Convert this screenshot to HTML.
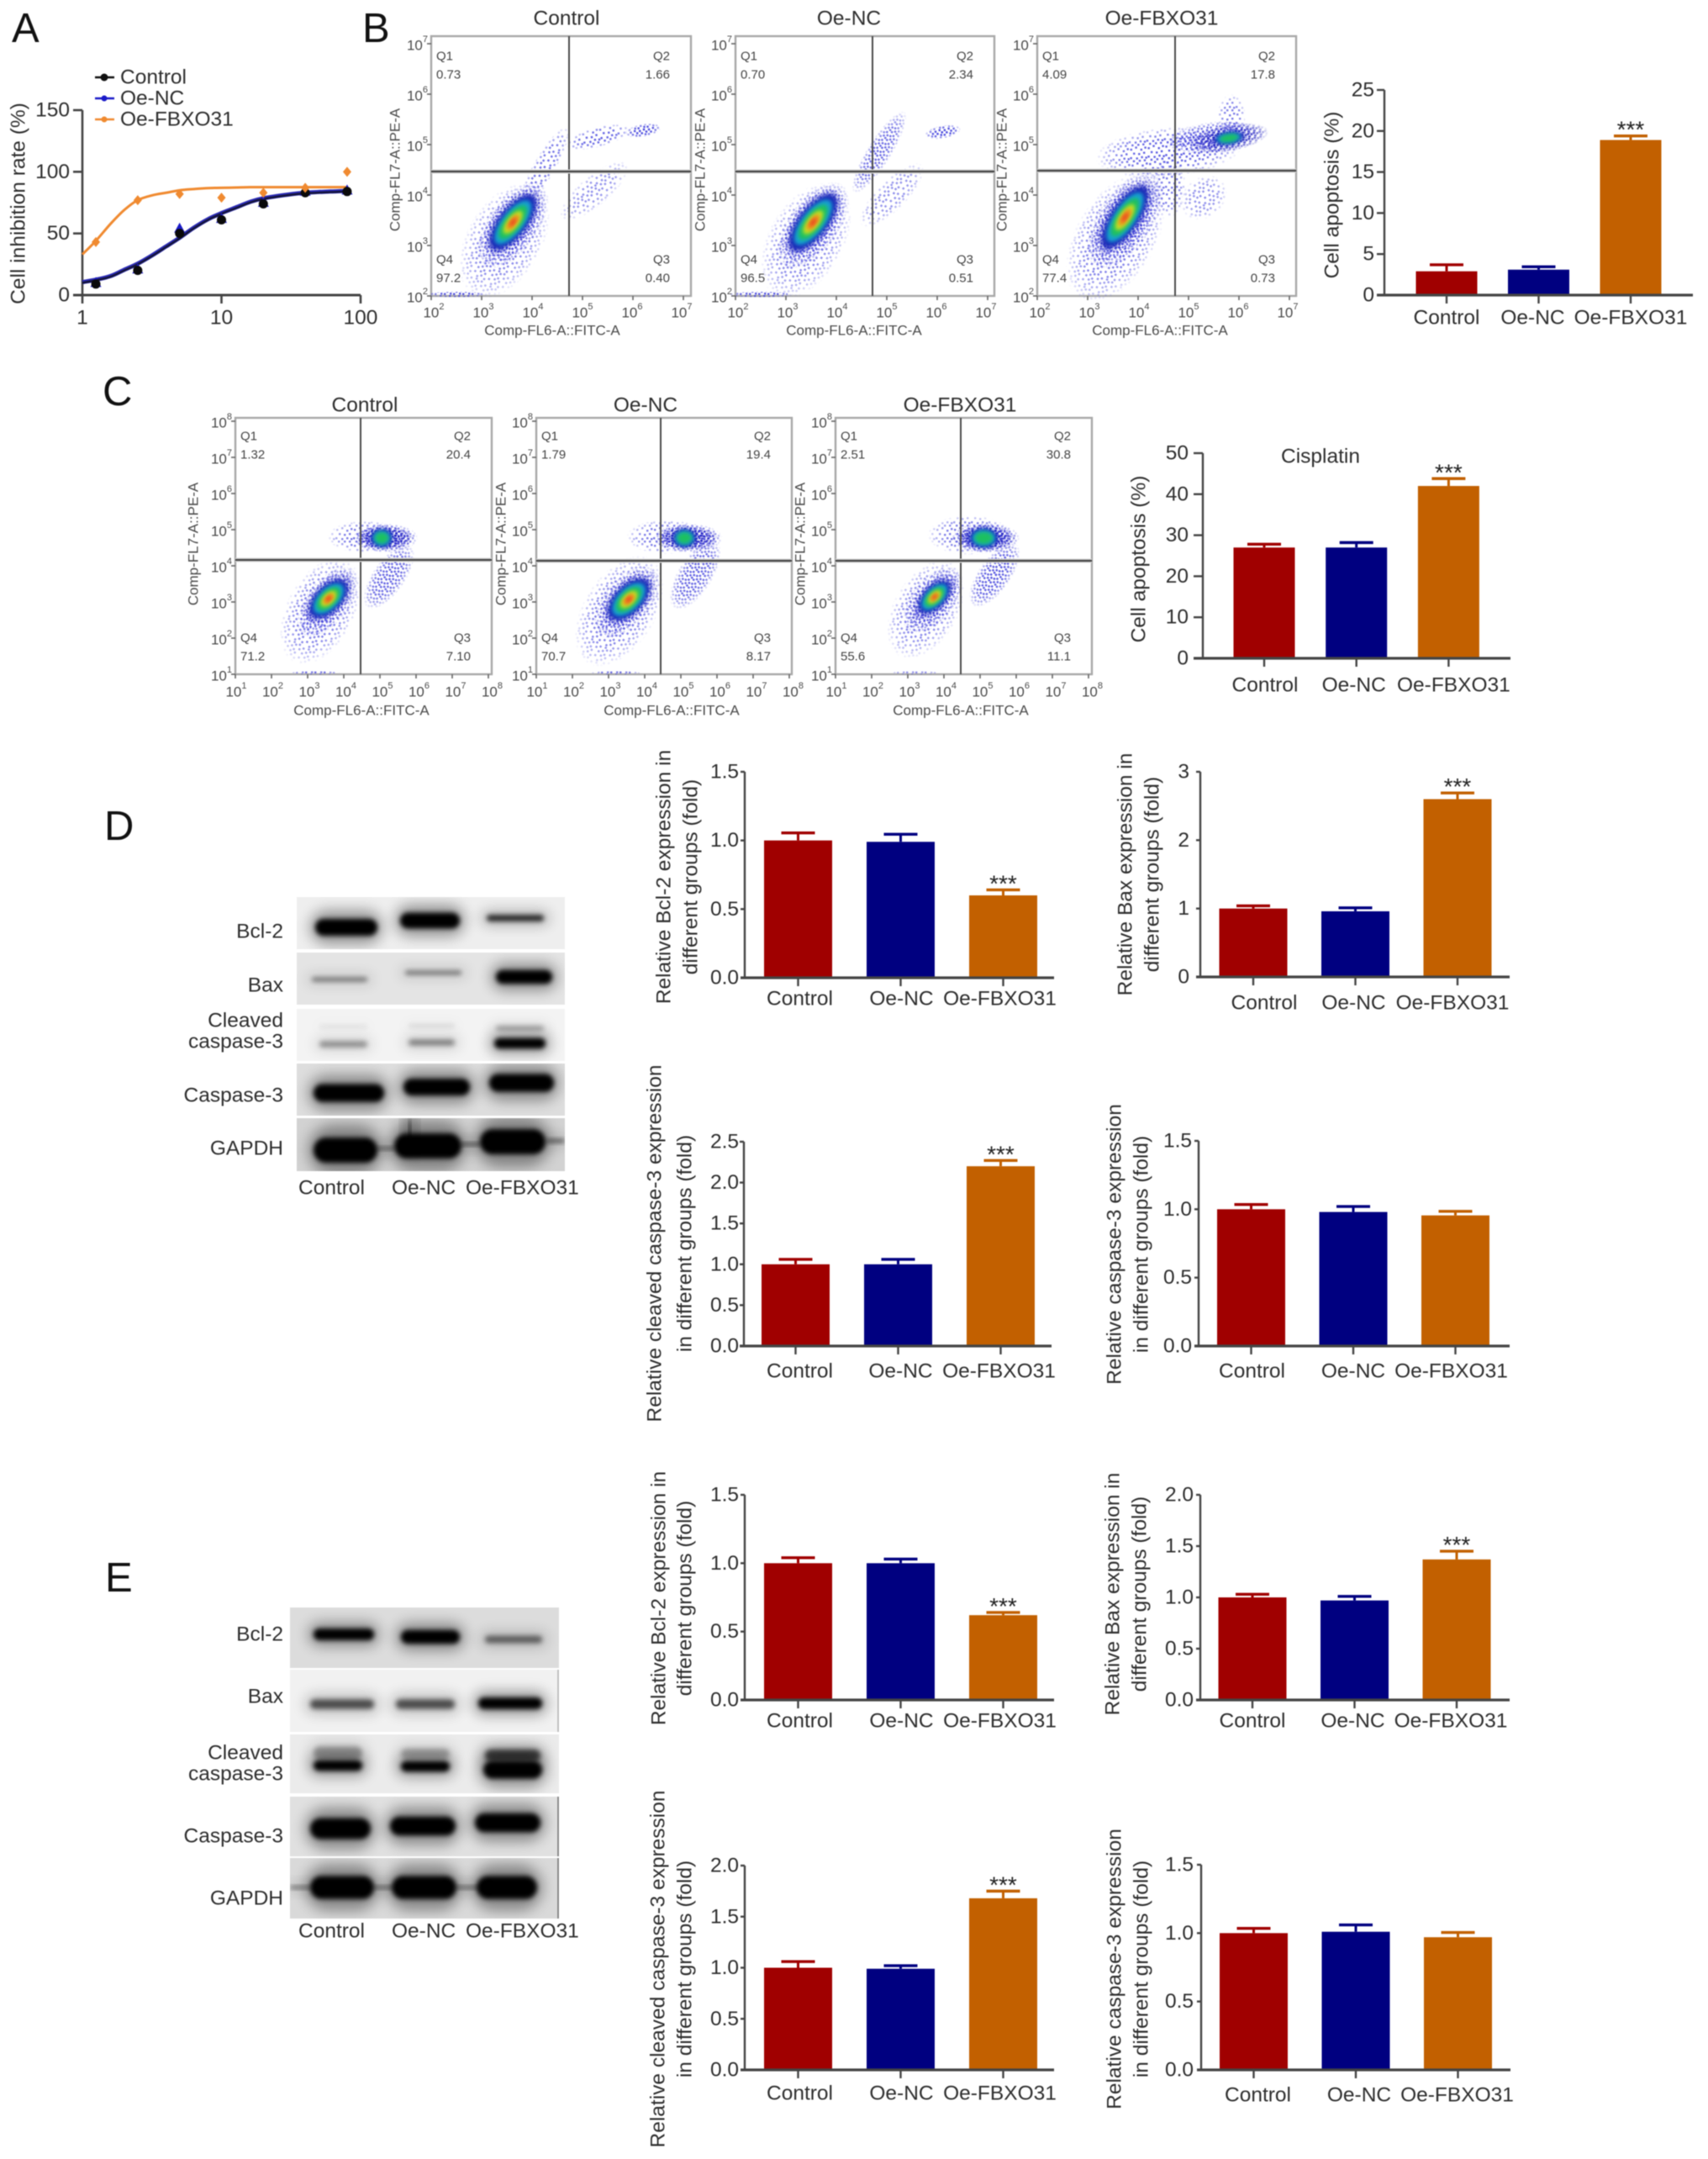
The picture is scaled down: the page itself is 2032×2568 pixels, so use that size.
<!DOCTYPE html>
<html lang="en">
<head>
<meta charset="utf-8">
<title>FBXO31 cell inhibition, apoptosis and protein expression figure</title>
<style>
html,body{margin:0;padding:0;background:#fff;}
#figure{display:block;width:2032px;height:2568px;filter:blur(0.6px);font-family:"Liberation Sans",Arial,sans-serif;}
text{dominant-baseline:central;}
text.base{dominant-baseline:auto;}
</style>
</head>
<body>
<svg id="figure" xmlns="http://www.w3.org/2000/svg" width="2032" height="2568" viewBox="0 0 2032 2568">
<defs>
<filter id="blurCore" x="-40%" y="-40%" width="180%" height="180%"><feGaussianBlur stdDeviation="2.5"/></filter>
<filter id="blurBand" x="-20%" y="-100%" width="140%" height="300%"><feGaussianBlur stdDeviation="2.8"/></filter>
<filter id="blurHalo" x="-40%" y="-200%" width="180%" height="500%"><feGaussianBlur stdDeviation="8"/></filter>
<radialGradient id="featherGrad" cx="0.5" cy="0.5" r="0.5">
<stop offset="0" stop-color="#fff"/><stop offset="0.6" stop-color="#ddd"/><stop offset="0.85" stop-color="#777"/><stop offset="1" stop-color="#000"/>
</radialGradient>
<mask id="feather" maskUnits="objectBoundingBox" maskContentUnits="objectBoundingBox" x="0" y="0" width="1" height="1">
<rect x="0" y="0" width="1" height="1" fill="url(#featherGrad)"/>
</mask>
<pattern id="speckle" patternUnits="userSpaceOnUse" width="21" height="19">
<g fill="#5656e2">
<rect x="1" y="2" width="2.4" height="2.4"/><rect x="7" y="0" width="2.4" height="2.4"/><rect x="13" y="3" width="2.4" height="2.4"/>
<rect x="18" y="1" width="2.4" height="2.4"/><rect x="4" y="7" width="2.4" height="2.4"/><rect x="10" y="8" width="2.4" height="2.4"/>
<rect x="16" y="7" width="2.4" height="2.4"/><rect x="0" y="12" width="2.4" height="2.4"/><rect x="7" y="13" width="2.4" height="2.4"/>
<rect x="13" y="12" width="2.4" height="2.4"/><rect x="18" y="13" width="2.4" height="2.4"/><rect x="3" y="16" width="2.4" height="2.4"/>
<rect x="10" y="16" width="2.4" height="2.4"/><rect x="16" y="16" width="2.4" height="2.4"/>
</g>
</pattern>
<pattern id="speckleDense" patternUnits="userSpaceOnUse" width="11" height="9">
<g fill="#3c3cdc">
<rect x="1" y="1" width="2.4" height="2.4"/><rect x="6" y="0" width="2.4" height="2.4"/><rect x="8.5" y="3" width="2.4" height="2.4"/>
<rect x="3" y="4" width="2.4" height="2.4"/><rect x="7" y="6" width="2.4" height="2.4"/><rect x="0" y="6.5" width="2.4" height="2.4"/>
</g>
</pattern>
<pattern id="speckleDeep" patternUnits="userSpaceOnUse" width="7" height="6">
<g fill="#2020c0">
<rect x="0" y="0" width="3" height="2.6"/><rect x="4" y="1" width="2.6" height="2.6"/><rect x="1" y="3.4" width="3" height="2.4"/>
</g>
</pattern>
</defs>
</svg>
<script>
/* ---------- Panel A: dose-response data ---------- */
const seriesNames = ['Control', 'Oe-NC', 'Oe-FBXO31'];
const doses = [1.25, 2.5, 5, 10, 20, 40, 80];
const controlPoints = [9, 20, 50, 61, 74, 83, 84];
const oeNcPoints = [10, 21, 54, 62, 75, 84, 85];
const oeFbxo31Points = [43, 77, 82, 79, 83, 87, 100];
const curveDoses = [1, 1.25, 1.6, 2, 2.5, 3.2, 4, 5, 6.3, 8, 10, 13, 16, 20, 30, 40, 60, 80];
const controlCurve = [10, 12, 15, 20, 25, 32, 39, 46, 54, 61, 66, 71, 75, 78, 81, 82.5, 83.5, 84];
const oeNcCurve = [10.5, 12.5, 15.5, 20.5, 25.5, 32.5, 39.5, 46.5, 54.5, 61.5, 66.5, 71.5, 75.5, 78.5, 81.5, 83, 84, 84.5];
const oeFbxo31Curve = [33, 44, 58, 69, 77, 81, 83, 85, 86, 86.8, 87, 87.3, 87.5, 87.5, 87.5, 87.5, 87.5, 87.5];
const inhibitionTicks = [0, 50, 100, 150];
const doseTicks = [1, 10, 100];

/* ---------- Bar charts: values, errors, tick labels ---------- */
const categories = ['Control', 'Oe-NC', 'Oe-FBXO31'];
const significance = ['', '', '***'];
const noSignificance = ['', '', ''];

const apoptosisBValues = [2.9, 3.1, 18.9];
const apoptosisBErrors = [0.8, 0.35, 0.5];
const apoptosisBTicks = ['0', '5', '10', '15', '20', '25'];

const apoptosisCValues = [27, 27, 42];
const apoptosisCErrors = [0.8, 1.2, 1.8];
const apoptosisCTicks = ['0', '10', '20', '30', '40', '50'];

const bcl2DValues = [1.0, 0.99, 0.6];
const bcl2DErrors = [0.055, 0.055, 0.04];
const bcl2DTicks = ['0.0', '0.5', '1.0', '1.5'];

const baxDValues = [1.0, 0.96, 2.6];
const baxDErrors = [0.04, 0.05, 0.09];
const baxDTicks = ['0', '1', '2', '3'];

const cleavedDValues = [1.0, 1.0, 2.2];
const cleavedDErrors = [0.06, 0.06, 0.07];
const cleavedDTicks = ['0.0', '0.5', '1.0', '1.5', '2.0', '2.5'];

const caspaseDValues = [1.0, 0.98, 0.955];
const caspaseDErrors = [0.035, 0.04, 0.03];
const caspaseDTicks = ['0.0', '0.5', '1.0', '1.5'];

const bcl2EValues = [1.0, 1.0, 0.62];
const bcl2EErrors = [0.04, 0.03, 0.02];
const bcl2ETicks = ['0.0', '0.5', '1.0', '1.5'];

const baxEValues = [1.0, 0.97, 1.37];
const baxEErrors = [0.03, 0.04, 0.08];
const baxETicks = ['0.0', '0.5', '1.0', '1.5', '2.0'];

const cleavedEValues = [1.0, 0.99, 1.68];
const cleavedEErrors = [0.06, 0.03, 0.07];
const cleavedETicks = ['0.0', '0.5', '1.0', '1.5', '2.0'];

const caspaseEValues = [1.0, 1.01, 0.97];
const caspaseEErrors = [0.035, 0.05, 0.035];
const caspaseETicks = ['0.0', '0.5', '1.0', '1.5'];

/* ---------- Flow cytometry: quadrant percentages, axis exponents, density clusters ---------- */
const quadrantNames = ['Q1', 'Q2', 'Q3', 'Q4'];
const flowBExponents = [2, 3, 4, 5, 6, 7];
const flowCExponents = [1, 2, 3, 4, 5, 6, 7, 8];
const flowB1Quadrants = ['0.73', '1.66', '0.40', '97.2'];
const flowB2Quadrants = ['0.70', '2.34', '0.51', '96.5'];
const flowB3Quadrants = ['4.09', '17.8', '0.73', '77.4'];
const flowC1Quadrants = ['1.32', '20.4', '7.10', '71.2'];
const flowC2Quadrants = ['1.79', '19.4', '8.17', '70.7'];
const flowC3Quadrants = ['2.51', '30.8', '11.1', '55.6'];

const flowB1Clusters = [
  [3.45, 3.1, 1.25, 0.75, -60, 'speckle', 0.8],
  [3.62, 3.4, 1.0, 0.5, -54, 'dense', 0.95],
  [3.62, 3.46, 0.82, 0.38, -52, 'deep', 0.8],
  [4.25, 4.57, 0.9, 0.22, -60, 'speckle', 0.9],
  [5.31, 5.15, 0.65, 0.2, -15, 'speckle', 1],
  [6.2, 5.28, 0.36, 0.13, -10, 'dense', 1],
  [5.23, 4.08, 0.85, 0.3, -40, 'speckle', 0.7],
  [2.5, 2.03, 0.6, 0.06, 0, 'dense', 0.9],
  [3.62, 3.46, 0.66, 0.27, -52, 'core', 6]
];
const flowB2Clusters = [
  [3.4, 3.1, 1.25, 0.75, -60, 'speckle', 0.8],
  [3.54, 3.4, 1.0, 0.5, -54, 'dense', 0.95],
  [3.54, 3.46, 0.82, 0.38, -52, 'deep', 0.8],
  [4.85, 4.85, 0.95, 0.24, -58, 'dense', 0.8],
  [6.11, 5.25, 0.36, 0.13, -10, 'dense', 1],
  [5.1, 4.0, 0.85, 0.3, -45, 'speckle', 0.7],
  [2.5, 2.03, 0.65, 0.06, 0, 'dense', 0.9],
  [3.54, 3.46, 0.68, 0.28, -52, 'core', 6]
];
const flowB3Clusters = [
  [3.55, 3.15, 1.4, 0.8, -60, 'speckle', 0.85],
  [3.74, 3.5, 1.1, 0.55, -56, 'dense', 0.95],
  [3.74, 3.56, 0.9, 0.4, -55, 'deep', 0.8],
  [4.6, 4.85, 1.45, 0.5, -5, 'speckle', 1],
  [5.45, 5.15, 0.9, 0.3, -8, 'dense', 0.85],
  [5.8, 5.13, 0.8, 0.27, -10, 'deep', 0.85],
  [5.85, 5.55, 0.28, 0.45, 0, 'speckle', 0.8],
  [4.6, 4.15, 0.35, 0.6, 0, 'speckle', 0.8],
  [5.3, 3.95, 0.5, 0.4, -40, 'speckle', 0.7],
  [3.74, 3.56, 0.72, 0.27, -56, 'core', 6],
  [5.8, 5.13, 0.3, 0.12, -8, 'core', 3]
];
const flowC1Clusters = [
  [3.35, 2.75, 1.6, 0.95, -62, 'speckle', 0.85],
  [3.55, 3.0, 1.15, 0.6, -52, 'dense', 0.9],
  [3.58, 3.09, 0.9, 0.48, -46, 'deep', 0.75],
  [4.6, 4.8, 1.05, 0.45, 0, 'speckle', 0.85],
  [5.15, 4.77, 0.9, 0.4, 0, 'dense', 1],
  [5.15, 4.77, 0.78, 0.33, 0, 'deep', 0.9],
  [5.25, 3.7, 1.05, 0.45, -55, 'dense', 0.85],
  [3.2, 1.04, 0.7, 0.05, 0, 'dense', 0.8],
  [3.58, 3.09, 0.66, 0.35, -45, 'core', 6],
  [5.05, 4.77, 0.3, 0.25, 0, 'core', 3]
];
const flowC2Clusters = [
  [3.3, 2.75, 1.7, 1.0, -58, 'speckle', 0.85],
  [3.5, 3.0, 1.2, 0.65, -50, 'dense', 0.9],
  [3.56, 3.07, 0.95, 0.52, -46, 'deep', 0.75],
  [4.6, 4.8, 1.1, 0.48, 0, 'speckle', 0.85],
  [5.2, 4.77, 0.95, 0.4, 0, 'dense', 1],
  [5.2, 4.77, 0.82, 0.33, 0, 'deep', 0.9],
  [5.4, 3.75, 1.1, 0.48, -58, 'dense', 0.85],
  [3.2, 1.04, 0.7, 0.05, 0, 'dense', 0.8],
  [3.56, 3.07, 0.72, 0.38, -45, 'core', 6],
  [5.1, 4.77, 0.32, 0.25, 0, 'core', 3]
];
const flowC3Clusters = [
  [3.5, 2.8, 1.5, 0.9, -60, 'speckle', 0.8],
  [3.7, 3.05, 1.1, 0.6, -50, 'dense', 0.9],
  [3.74, 3.14, 0.82, 0.42, -46, 'deep', 0.75],
  [4.7, 4.85, 1.15, 0.55, 0, 'speckle', 0.85],
  [5.15, 4.77, 0.95, 0.42, 0, 'dense', 1],
  [5.15, 4.77, 0.82, 0.36, 0, 'deep', 0.95],
  [5.4, 3.75, 1.05, 0.45, -55, 'dense', 0.9],
  [3.2, 1.04, 0.7, 0.05, 0, 'dense', 0.6],
  [3.74, 3.14, 0.56, 0.29, -45, 'core', 6],
  [5.1, 4.77, 0.4, 0.27, 0, 'core', 3]
];

/* ---------- Helpers ---------- */
const svg = document.getElementById('figure');
const NS = 'http://www.w3.org/2000/svg';
const AXIS = '#444';
const INK = '#2e2e2e';
const BAR_COLORS = ['#a00000', '#000080', '#c26000'];
const TEXT_SIZE = 24.5;

function make(tag, attrs, parent) {
  const e = document.createElementNS(NS, tag);
  for (const k in attrs) e.setAttribute(k, attrs[k]);
  (parent || svg).appendChild(e);
  return e;
}
function write(str, x, y, size, anchor, fill, parent, rotate) {
  const t = make('text', { x: x, y: y, 'font-size': size, 'text-anchor': anchor, fill: fill }, parent);
  if (rotate) t.setAttribute('transform', 'rotate(' + rotate + ' ' + x + ' ' + y + ')');
  t.textContent = str;
  return t;
}
function smoothPath(pts) {
  let d = 'M' + pts[0][0] + ' ' + pts[0][1];
  for (let i = 0; i < pts.length - 1; i++) {
    const p0 = pts[Math.max(i - 1, 0)], p1 = pts[i], p2 = pts[i + 1], p3 = pts[Math.min(i + 2, pts.length - 1)];
    d += ' C' + (p1[0] + (p2[0] - p0[0]) / 6) + ' ' + (p1[1] + (p2[1] - p0[1]) / 6) + ' ' +
      (p2[0] - (p3[0] - p1[0]) / 6) + ' ' + (p2[1] - (p3[1] - p1[1]) / 6) + ' ' + p2[0] + ' ' + p2[1];
  }
  return d;
}

/* ---------- Panel letters ---------- */
const panelLetters = [['A', 14, 50], ['B', 431, 50], ['C', 122, 482], ['D', 124, 999], ['E', 125, 1893]];
panelLetters.forEach(function (p) {
  const t = write(p[0], p[1], p[2], 49, 'start', '#111');
  t.setAttribute('class', 'base');
  
  
});

/* ---------- Panel A ---------- */
(function drawDoseResponse() {
  const g = make('g', {});
  
  
  const left = 98, bottom = 351, top = 131, decade = 165.5;
  const xScale = function (d) { return left + Math.log10(d) * decade; };
  const yScale = function (v) { return bottom - (v / 150) * (bottom - top); };

  const yAxis = make('line', { x1: left, x2: left, y1: yScale(150), y2: bottom, stroke: AXIS, 'stroke-width': 2.6 }, g);
  
  
  const xAxis = make('line', { x1: 87, x2: xScale(100), y1: bottom, y2: bottom, stroke: AXIS, 'stroke-width': 3 }, g);
  
  

  inhibitionTicks.forEach(function (v) {
    const tick = make('line', { x1: 87, x2: left, y1: yScale(v), y2: yScale(v), stroke: AXIS, 'stroke-width': 2.6 }, g);
    
    
    const lab = write(String(v), 83, yScale(v), TEXT_SIZE, 'end', INK, g);
    
    
  });
  doseTicks.forEach(function (d) {
    const tick = make('line', { x1: xScale(d), x2: xScale(d), y1: bottom, y2: bottom + 10, stroke: AXIS, 'stroke-width': 2.6 }, g);
    
    
    const lab = write(String(d), xScale(d), 378, TEXT_SIZE, 'middle', INK, g);
    
    
  });
  const yTitle = write('Cell inhibition rate (%)', 22, 242, TEXT_SIZE, 'middle', INK, g, -90);
  
  

  function curve(vals) {
    return smoothPath(curveDoses.map(function (d, i) { return [xScale(d), yScale(vals[i])]; }));
  }
  const ncLine = make('path', { d: curve(oeNcCurve), fill: 'none', stroke: '#2a2ab4', 'stroke-width': 5 }, g);
  
  
  const ctrlLine = make('path', { d: curve(controlCurve), fill: 'none', stroke: '#15153a', 'stroke-width': 2.4 }, g);
  
  
  const fbxLine = make('path', { d: curve(oeFbxo31Curve), fill: 'none', stroke: '#f08a30', 'stroke-width': 3 }, g);
  
  

  oeNcPoints.forEach(function (v, i) {
    const x = xScale(doses[i]), y = yScale(v);
    const m = make('path', { d: 'M' + x + ' ' + (y - 7) + 'L' + (x + 6.5) + ' ' + (y + 5) + 'L' + (x - 6.5) + ' ' + (y + 5) + 'Z', fill: '#1a1ac8' }, g);
    
    
  });
  controlPoints.forEach(function (v, i) {
    const m = make('circle', { cx: xScale(doses[i]), cy: yScale(v), r: 5.5, fill: '#0a0a0a' }, g);
    
    
  });
  oeFbxo31Points.forEach(function (v, i) {
    const x = xScale(doses[i]), y = yScale(v);
    const m = make('path', { d: 'M' + x + ' ' + (y - 6) + 'L' + (x + 5) + ' ' + y + 'L' + x + ' ' + (y + 6) + 'L' + (x - 5) + ' ' + y + 'Z', fill: '#f08a30' }, g);
    
    
  });

  const legendColors = ['#111', '#1a1ac8', '#f08a30'];
  seriesNames.forEach(function (name, i) {
    const y = 92 + i * 25;
    const line = make('line', { x1: 113, x2: 136, y1: y, y2: y, stroke: legendColors[i], 'stroke-width': 2.4 }, g);
    
    
    const dot = make('circle', { cx: 124, cy: y, r: i === 0 ? 4.5 : 3.5, fill: legendColors[i] }, g);
    
    
    const lab = write(name, 143, y, TEXT_SIZE, 'start', INK, g);
    
    
  });
})();

/* ---------- Flow plots ---------- */
const CORE_COLORS = ['#1c2cb8', '#14a0d0', '#1cc060', '#c4e024', '#f08a20', '#e8401c'];
const CORE_SCALES = [1, 0.8, 0.62, 0.42, 0.27, 0.14];
const CLOUD_FILLS = { speckle: 'speckle', dense: 'speckleDense', deep: 'speckleDeep' };

function drawFlowPlot(cfg) {
  const g = make('g', {});
  
  
  const minE = cfg.exponents[0];
  const xScale = function (e) { return cfg.left + (e - minE) * cfg.decade; };
  const yScale = function (e) { return cfg.bottom - (e - minE) * cfg.decade; };
  const xLabelScale = function (e) { return cfg.left + cfg.labelOffset + (e - minE) * cfg.labelDecade; };

  const frame = make('rect', { x: cfg.left, y: cfg.top, width: cfg.right - cfg.left, height: cfg.bottom - cfg.top, fill: '#fff', stroke: '#a8a8a8', 'stroke-width': 2.4 }, g);
  
  

  cfg.clusters.forEach(function (c) {
    const cx = xScale(c[0]), cy = yScale(c[1]), rx = c[2] * cfg.decade, ry = c[3] * cfg.decade;
    const rot = 'rotate(' + c[4] + ' ' + cx + ' ' + cy + ')';
    if (c[5] === 'core') {
      for (let i = 0; i < c[6]; i++) {
        const blob = make('ellipse', { cx: cx, cy: cy, rx: rx * CORE_SCALES[i], ry: ry * CORE_SCALES[i], transform: rot, fill: CORE_COLORS[i], filter: 'url(#blurCore)' }, g);
        
        
      }
    } else {
      const cloud = make('ellipse', { cx: cx, cy: cy, rx: rx, ry: ry, transform: rot, fill: 'url(#' + CLOUD_FILLS[c[5]] + ')', mask: 'url(#feather)', opacity: c[6] }, g);
      
      
    }
  });

  const vGate = make('line', { x1: cfg.gateX, x2: cfg.gateX, y1: cfg.top, y2: cfg.bottom, stroke: '#4a4a4a', 'stroke-width': 2 }, g);
  
  
  const hGlow = make('line', { x1: cfg.left, x2: cfg.right, y1: cfg.gateY, y2: cfg.gateY, stroke: '#d4d4d4', 'stroke-width': 5 }, g);
  
  
  const hGate = make('line', { x1: cfg.left, x2: cfg.right, y1: cfg.gateY, y2: cfg.gateY, stroke: '#444', 'stroke-width': 2.2 }, g);
  
  

  cfg.exponents.forEach(function (e) {
    const xt = make('line', { x1: xScale(e), x2: xScale(e), y1: cfg.bottom, y2: cfg.bottom + 5, stroke: '#666', 'stroke-width': 1.6 }, g);
    
    
    const yt = make('line', { x1: cfg.left - 5, x2: cfg.left, y1: yScale(e), y2: yScale(e), stroke: '#666', 'stroke-width': 1.6 }, g);
    
    

    const xl = write('10', xLabelScale(e), cfg.xTickY, 17, 'middle', '#4a4a4a', g);
    
    
    const xs = make('tspan', { dy: -7, 'font-size': 11 }, xl);
    xs.textContent = String(e);
    const yl = write('10', cfg.left - 4, yScale(e) + 2, 17, 'end', '#4a4a4a', g);
    
    
    const ys = make('tspan', { dy: -7, 'font-size': 11 }, yl);
    ys.textContent = String(e);
  });

  const title = write(cfg.title, cfg.titleX, cfg.titleY, TEXT_SIZE, 'middle', INK, g);
  
  
  const xTitle = write('Comp-FL6-A::FITC-A', cfg.xTitleX, cfg.xTitleY, 17, 'middle', '#4a4a4a', g);
  
  
  const yTitle = write('Comp-FL7-A::PE-A', cfg.yTitleX, cfg.yTitleY, 17, 'middle', '#4a4a4a', g, -90);
  
  

  const qLeft = cfg.left + 6, qRight = cfg.right - 25;
  const spots = [[qLeft, 'start', cfg.qTop], [qRight, 'end', cfg.qTop], [qRight, 'end', cfg.qBottom], [qLeft, 'start', cfg.qBottom]];
  quadrantNames.forEach(function (q, i) {
    const s = spots[i];
    const qn = write(q, s[0], s[2], 15, s[1], '#444', g);
    
    
    const qv = write(cfg.quadrants[i], s[0], s[2] + 22, 15, s[1], '#444', g);
    
    
  });
}

const flowBCommon = { exponents: flowBExponents, decade: 60, labelOffset: 3, labelDecade: 59, top: 43, bottom: 352, xTickY: 372, titleY: 22, xTitleY: 393, yTitleY: 202, qTop: 67, qBottom: 309 };
const flowCCommon = { exponents: flowCExponents, decade: 43, labelOffset: 1, labelDecade: 43.5, top: 497, bottom: 802, xTickY: 823, titleY: 482, xTitleY: 845, yTitleY: 647, qTop: 519, qBottom: 759 };

drawFlowPlot(Object.assign({}, flowBCommon, { name: 'flow-plot-b-control', title: 'Control', left: 513, right: 822, gateX: 677, gateY: 204, titleX: 674, xTitleX: 657, yTitleX: 470, quadrants: flowB1Quadrants, clusters: flowB1Clusters }));
drawFlowPlot(Object.assign({}, flowBCommon, { name: 'flow-plot-b-oe-nc', title: 'Oe-NC', left: 875, right: 1183, gateX: 1038, gateY: 204, titleX: 1010, xTitleX: 1016, yTitleX: 833, quadrants: flowB2Quadrants, clusters: flowB2Clusters }));
drawFlowPlot(Object.assign({}, flowBCommon, { name: 'flow-plot-b-oe-fbxo31', title: 'Oe-FBXO31', left: 1234, right: 1542, gateX: 1398, gateY: 203, titleX: 1382, xTitleX: 1380, yTitleX: 1192, quadrants: flowB3Quadrants, clusters: flowB3Clusters }));
drawFlowPlot(Object.assign({}, flowCCommon, { name: 'flow-plot-c-control', title: 'Control', left: 280, right: 585, gateX: 429, gateY: 666, titleX: 434, xTitleX: 430, yTitleX: 230, quadrants: flowC1Quadrants, clusters: flowC1Clusters }));
drawFlowPlot(Object.assign({}, flowCCommon, { name: 'flow-plot-c-oe-nc', title: 'Oe-NC', left: 638, right: 942, gateX: 786, gateY: 667, titleX: 768, xTitleX: 799, yTitleX: 596, quadrants: flowC2Quadrants, clusters: flowC2Clusters }));
drawFlowPlot(Object.assign({}, flowCCommon, { name: 'flow-plot-c-oe-fbxo31', title: 'Oe-FBXO31', left: 994, right: 1299, gateX: 1143, gateY: 667, titleX: 1142, xTitleX: 1143, yTitleX: 952, quadrants: flowC3Quadrants, clusters: flowC3Clusters }));

/* ---------- Bar charts ---------- */
function drawBarChart(cfg) {
  const g = make('g', {});
  
  
  const maxV = Number(cfg.ticks[cfg.ticks.length - 1]);
  const yScale = function (v) { return cfg.yBottom - (v / maxV) * (cfg.yBottom - cfg.yTop); };
  const xScale = function (i) { return cfg.firstCenter + i * cfg.step; };

  cfg.values.forEach(function (v, i) {
    const x = xScale(i), top = yScale(v), errTop = yScale(v + cfg.errors[i]);
    const stem = make('line', { x1: x, x2: x, y1: top, y2: errTop, stroke: BAR_COLORS[i], 'stroke-width': 3 }, g);
    
    
    const cap = make('line', { x1: x - 20, x2: x + 20, y1: errTop, y2: errTop, stroke: BAR_COLORS[i], 'stroke-width': 3.4 }, g);
    
    
    const bar = make('rect', { x: x - cfg.barWidth / 2, y: top, width: cfg.barWidth, height: cfg.yBottom - top, fill: BAR_COLORS[i] }, g);
    
    
    if (cfg.stars[i]) {
      const stars = write(cfg.stars[i], x, errTop - 14 + 16, 28, 'middle', '#222', g);
      stars.setAttribute('class', 'base');
      
      
    }
  });

  const yAxis = make('line', { x1: cfg.axisX, x2: cfg.axisX, y1: cfg.yTop, y2: cfg.yBottom, stroke: AXIS, 'stroke-width': 2.4 }, g);
  
  
  const xAxis = make('line', { x1: cfg.axisX - cfg.tickLen, x2: cfg.axisEnd, y1: cfg.yBottom, y2: cfg.yBottom, stroke: AXIS, 'stroke-width': 3.2 }, g);
  
  

  cfg.ticks.forEach(function (t) {
    const y = yScale(Number(t));
    const tick = make('line', { x1: cfg.axisX - cfg.tickLen, x2: cfg.axisX, y1: y, y2: y, stroke: AXIS, 'stroke-width': 2.4 }, g);
    
    
    const lab = write(t, cfg.axisX - cfg.labelGap, y, TEXT_SIZE, 'end', INK, g);
    
    
  });
  categories.forEach(function (c, i) {
    const x = xScale(i);
    const tick = make('line', { x1: x, x2: x, y1: cfg.yBottom, y2: cfg.yBottom + 10, stroke: AXIS, 'stroke-width': 2.4 }, g);
    
    
    const lab = write(c, x + cfg.labelShift[i], cfg.labelY, TEXT_SIZE, 'middle', INK, g);
    
    
  });
  cfg.title.forEach(function (line, i) {
    const t = write(line, cfg.titleX[i], cfg.titleY, TEXT_SIZE, 'middle', INK, g, -90);
    
    
  });
  if (cfg.heading) {
    const h = write(cfg.heading, cfg.headingX, cfg.headingY, TEXT_SIZE, 'middle', INK, g);
    
    
  }
}

drawBarChart({ name: 'apoptosis-chart-b', values: apoptosisBValues, errors: apoptosisBErrors, ticks: apoptosisBTicks, stars: significance, axisX: 1647, axisEnd: 2014, yTop: 107, yBottom: 351, firstCenter: 1721, step: 109.5, barWidth: 73, tickLen: 9, labelGap: 12, labelY: 378, labelShift: [0, -7, 0], title: ['Cell apoptosis (%)'], titleX: [1585], titleY: 232 });
drawBarChart({ name: 'apoptosis-chart-c', values: apoptosisCValues, errors: apoptosisCErrors, ticks: apoptosisCTicks, stars: significance, axisX: 1431, axisEnd: 1797, yTop: 539, yBottom: 783, firstCenter: 1504, step: 109.7, barWidth: 73, tickLen: 11, labelGap: 17, labelY: 815, labelShift: [1, -3, 6], title: ['Cell apoptosis (%)'], titleX: [1355], titleY: 665, heading: 'Cisplatin', headingX: 1571, headingY: 543 });
drawBarChart({ name: 'bcl2-chart-d', values: bcl2DValues, errors: bcl2DErrors, ticks: bcl2DTicks, stars: significance, axisX: 886, axisEnd: 1254, yTop: 918, yBottom: 1163, firstCenter: 949.5, step: 122, barWidth: 81, tickLen: 5, labelGap: 7, labelY: 1188, labelShift: [2, 1, -4], title: ['Relative Bcl-2 expression in', 'different groups (fold)'], titleX: [790, 822], titleY: 1043 });
drawBarChart({ name: 'bax-chart-d', values: baxDValues, errors: baxDErrors, ticks: baxDTicks, stars: significance, axisX: 1428, axisEnd: 1796, yTop: 918, yBottom: 1162, firstCenter: 1491, step: 121.5, barWidth: 81, tickLen: 5, labelGap: 13, labelY: 1193, labelShift: [13, -2, -6], title: ['Relative Bax expression in', 'different groups (fold)'], titleX: [1339, 1371], titleY: 1040 });
drawBarChart({ name: 'cleaved-caspase-chart-d', values: cleavedDValues, errors: cleavedDErrors, ticks: cleavedDTicks, stars: significance, axisX: 885, axisEnd: 1251, yTop: 1358, yBottom: 1601, firstCenter: 946.5, step: 122, barWidth: 81, tickLen: 5, labelGap: 6, labelY: 1631, labelShift: [5, 3, -2], title: ['Relative cleaved caspase-3 expression', 'in different groups (fold)'], titleX: [779, 815], titleY: 1479 });
drawBarChart({ name: 'caspase-chart-d', values: caspaseDValues, errors: caspaseDErrors, ticks: caspaseDTicks, stars: noSignificance, axisX: 1426, axisEnd: 1796, yTop: 1357, yBottom: 1601, firstCenter: 1488.5, step: 121.5, barWidth: 81, tickLen: 5, labelGap: 8, labelY: 1631, labelShift: [1, 0, -5], title: ['Relative caspase-3 expression', 'in different groups (fold)'], titleX: [1326, 1358], titleY: 1480 });
drawBarChart({ name: 'bcl2-chart-e', values: bcl2EValues, errors: bcl2EErrors, ticks: bcl2ETicks, stars: significance, axisX: 886, axisEnd: 1254, yTop: 1778, yBottom: 2022, firstCenter: 949.5, step: 122, barWidth: 81, tickLen: 5, labelGap: 7, labelY: 2047, labelShift: [2, 1, -4], title: ['Relative Bcl-2 expression in', 'different groups (fold)'], titleX: [784, 815], titleY: 1901 });
drawBarChart({ name: 'bax-chart-e', values: baxEValues, errors: baxEErrors, ticks: baxETicks, stars: significance, axisX: 1428, axisEnd: 1796, yTop: 1778, yBottom: 2022, firstCenter: 1490, step: 121.5, barWidth: 81, tickLen: 5, labelGap: 8, labelY: 2047, labelShift: [0, -2, -7], title: ['Relative Bax expression in', 'different groups (fold)'], titleX: [1324, 1356], titleY: 1896 });
drawBarChart({ name: 'cleaved-caspase-chart-e', values: cleavedEValues, errors: cleavedEErrors, ticks: cleavedETicks, stars: significance, axisX: 886, axisEnd: 1254, yTop: 2219, yBottom: 2462, firstCenter: 949.5, step: 122, barWidth: 81, tickLen: 5, labelGap: 7, labelY: 2490, labelShift: [2, 1, -4], title: ['Relative cleaved caspase-3 expression', 'in different groups (fold)'], titleX: [783, 815], titleY: 2342 });
drawBarChart({ name: 'caspase-chart-e', values: caspaseEValues, errors: caspaseEErrors, ticks: caspaseETicks, stars: noSignificance, axisX: 1429, axisEnd: 1797, yTop: 2218, yBottom: 2462, firstCenter: 1491.5, step: 121.5, barWidth: 81, tickLen: 5, labelGap: 9, labelY: 2492, labelShift: [5, 4, -1], title: ['Relative caspase-3 expression', 'in different groups (fold)'], titleX: [1326, 1358], titleY: 2342 });

/* ---------- Western blots (photographic panels, drawn as blurred bands) ---------- */
function drawBlot(cfg) {
  const g = make('g', {});
  
  
  cfg.rows.forEach(function (row, r) {
    const clipId = cfg.name + '-clip-' + r;
    const clip = make('clipPath', { id: clipId }, g);
    make('rect', { x: row.x, y: row.y1, width: row.w, height: row.y2 - row.y1 }, clip);
    const strip = make('g', { 'clip-path': 'url(#' + clipId + ')' }, g);
    
    
    const bg = make('rect', { x: row.x, y: row.y1, width: row.w, height: row.y2 - row.y1, fill: row.bg }, strip);
    
    
    row.bands.forEach(function (b) {
      const h = b[3] > 5 ? b[3] * 1.25 : b[3];
      const halo = make('rect', { x: b[0] - 6, y: b[2] - h, width: b[1] - b[0] + 12, height: h * 2, rx: h, fill: '#000', opacity: 0.38 * b[4], filter: 'url(#blurHalo)' }, strip);
      
      
      const band = make('rect', { x: b[0], y: b[2] - h / 2, width: b[1] - b[0], height: h, rx: h / 2, fill: '#000', opacity: b[4], filter: 'url(#blurBand)' }, strip);
      
      
    });
    if (row.edge) {
      const edge = make('line', { x1: row.x + row.w - 1, x2: row.x + row.w - 1, y1: row.y1, y2: row.y2, stroke: row.edge, 'stroke-width': 1.6 }, g);
      
      
    }
  });
  cfg.labels.forEach(function (l) {
    const t = write(l[0], cfg.labelRight, l[1], TEXT_SIZE, 'end', INK, g);
    
    
  });
  cfg.lanes.forEach(function (l) {
    const t = write(l[0], l[1], cfg.laneY, TEXT_SIZE, 'start', INK, g);
    
    
  });
}

drawBlot({
  name: 'western-blot-d', labelRight: 337, laneY: 1413,
  lanes: [['Control', 355], ['Oe-NC', 466], ['Oe-FBXO31', 554]],
  labels: [['Bcl-2', 1108], ['Bax', 1172], ['Cleaved', 1214], ['caspase-3', 1239], ['Caspase-3', 1303], ['GAPDH', 1366]],
  rows: [
    { x: 353, w: 319, y1: 1067, y2: 1129, bg: '#eeeeee', bands: [[375, 449, 1103, 16, 1], [476, 547, 1095, 15, 1], [579, 647, 1092, 6, 0.8]] },
    { x: 353, w: 319, y1: 1133, y2: 1195, bg: '#e4e4e4', bands: [[371, 437, 1165, 5, 0.45], [482, 549, 1157, 5, 0.45], [590, 657, 1162, 13, 1]] },
    { x: 353, w: 319, y1: 1200, y2: 1262, bg: '#f3f3f3', bands: [[380, 437, 1221, 4, 0.07], [486, 541, 1220, 4, 0.1], [590, 647, 1223, 5, 0.3], [380, 437, 1242, 6, 0.35], [486, 541, 1240, 6, 0.4], [588, 649, 1241, 10, 1]] },
    { x: 353, w: 319, y1: 1265, y2: 1327, bg: '#dddddd', bands: [[373, 457, 1300, 17, 1], [480, 559, 1293, 16, 1], [582, 659, 1288, 17, 1]] },
    { x: 353, w: 319, y1: 1330, y2: 1393, bg: '#d2d2d2', bands: [[373, 449, 1368, 24, 1], [469, 549, 1363, 24, 1], [571, 649, 1358, 24, 1], [448, 470, 1366, 3, 0.6], [548, 572, 1361, 3, 0.7], [650, 672, 1357, 4, 0.6], [486, 489, 1345, 24, 0.7]] }
  ]
});

drawBlot({
  name: 'western-blot-e', labelRight: 337, laneY: 2297,
  lanes: [['Control', 355], ['Oe-NC', 466], ['Oe-FBXO31', 554]],
  labels: [['Bcl-2', 1944], ['Bax', 2018], ['Cleaved', 2085], ['caspase-3', 2110], ['Caspase-3', 2184], ['GAPDH', 2258]],
  rows: [
    { x: 345, w: 320, y1: 1912, y2: 1984, bg: '#dcdcdc', bands: [[373, 445, 1944, 11, 1], [477, 547, 1947, 13, 1], [577, 645, 1950, 7, 0.5]] },
    { x: 345, w: 320, y1: 1986, y2: 2060, bg: '#f1f1f1', edge: '#b5b5b5', bands: [[369, 445, 2027, 9, 0.6], [471, 541, 2027, 9, 0.6], [569, 645, 2026, 11, 1]] },
    { x: 345, w: 320, y1: 2063, y2: 2133, bg: '#ebebeb', bands: [[373, 431, 2085, 12, 0.3], [477, 535, 2086, 10, 0.25], [577, 643, 2088, 11, 0.65], [373, 431, 2100, 10, 1], [477, 535, 2101, 10, 1], [575, 645, 2105, 17, 1]] },
    { x: 345, w: 320, y1: 2137, y2: 2208, bg: '#e0e0e0', edge: '#777777', bands: [[369, 441, 2175, 20, 1], [464, 542, 2172, 18, 1], [565, 643, 2168, 18, 1]] },
    { x: 345, w: 320, y1: 2210, y2: 2282, bg: '#d9d9d9', edge: '#777777', bands: [[369, 445, 2245, 22, 1], [466, 543, 2245, 22, 1], [567, 639, 2245, 22, 1], [345, 370, 2245, 3, 0.6], [444, 468, 2245, 3, 0.6], [542, 570, 2245, 3, 0.6]] }
  ]
});
</script>
</body>
</html>
